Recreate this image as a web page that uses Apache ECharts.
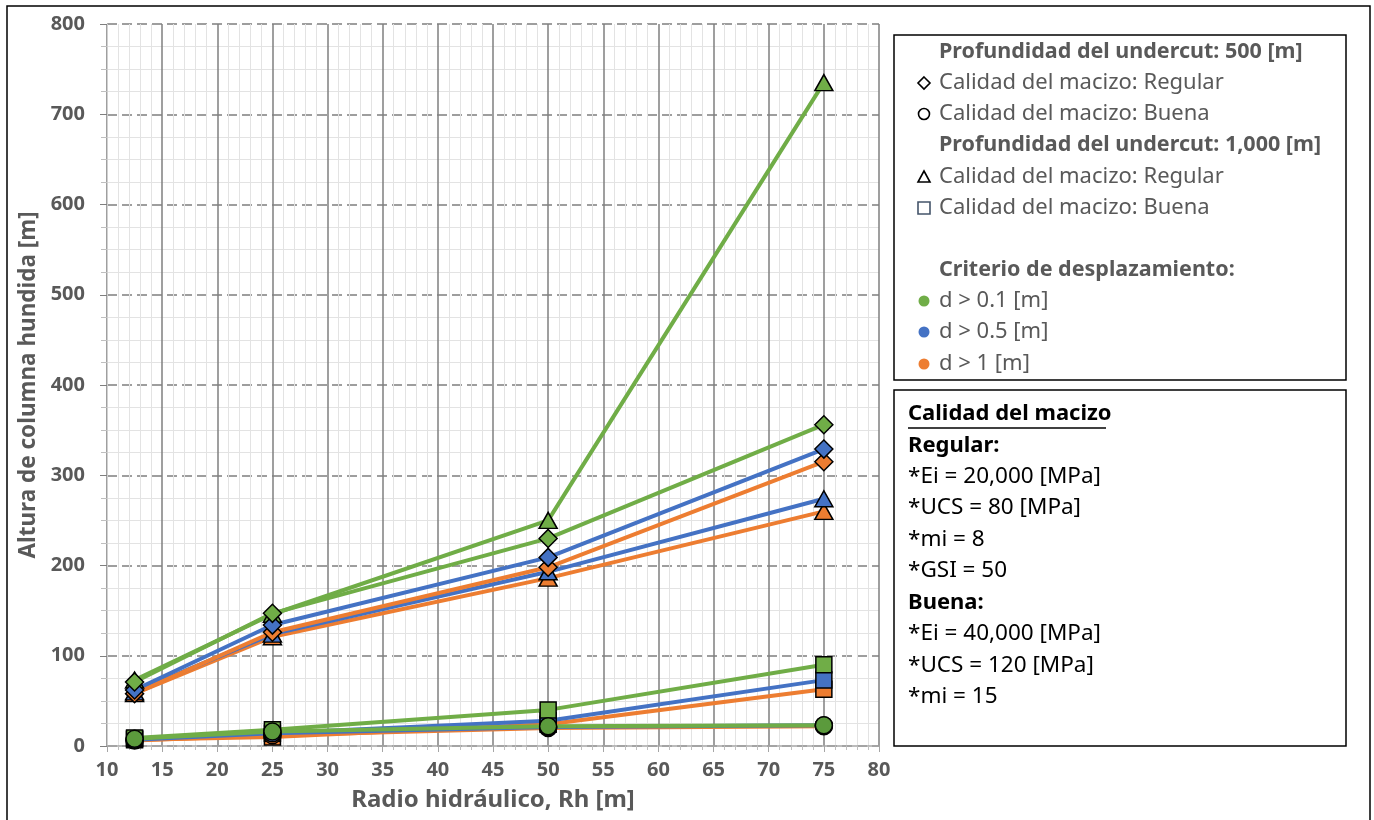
<!DOCTYPE html>
<html>
<head>
<meta charset="utf-8">
<script src="https://cdn.jsdelivr.net/npm/echarts@6/dist/echarts.min.js"></script>
<style>
  html, body { margin: 0; padding: 0; background: #fff; }
  #chart { width: 1374px; height: 820px; }
</style>
</head>
<body>
<div id="chart"></div>
<script>
// Hydraulic radius (x) shared by every series
const rh = [12.5, 25, 50, 75];

// Undercut depth 500 m, rock mass "Regular" (diamonds)
const reg500_d01 = [71, 147, 230, 356];
const reg500_d05 = [62, 134, 209, 329];
const reg500_d1  = [58, 126, 198, 315];

// Undercut depth 500 m, rock mass "Buena" (circles)
const bue500_d01 = [8, 16, 22, 23];
const bue500_d05 = [7, 14, 21, 23];
const bue500_d1  = [6, 12, 20, 22];

// Undercut depth 1,000 m, rock mass "Regular" (triangles)
const reg1000_d01 = [73, 146, 250, 735];
const reg1000_d05 = [60, 124, 193, 274];
const reg1000_d1  = [58, 121, 186, 260];

// Undercut depth 1,000 m, rock mass "Buena" (squares)
const bue1000_d01 = [9, 18, 40, 90];
const bue1000_d05 = [8, 14, 28, 73];
const bue1000_d1  = [7, 10, 24, 63];

// Axis ticks
const xTicks = [10, 15, 20, 25, 30, 35, 40, 45, 50, 55, 60, 65, 70, 75, 80];
const yTicks = [0, 100, 200, 300, 400, 500, 600, 700, 800];

const GREEN = '#70AD47', BLUE = '#4472C4', ORANGE = '#ED7D31';
const CIRCLE_GREEN = '#5B9A3C';
const GRAY = '#595959';
const FONT = '"Noto Sans", "Open Sans", sans-serif';

function makeSeries(name, values, color, symbol, size, fill) {
  return {
    name: name,
    type: 'line',
    data: values.map((v, i) => [rh[i], v]),
    symbol: symbol,
    symbolSize: size,
    showSymbol: true,
    lineStyle: { color: color, width: 4 },
    itemStyle: { color: fill || color, borderColor: '#000', borderWidth: 1.5 },
    emphasis: { disabled: true },
    animation: false
  };
}

const series = [
  makeSeries('1000 Buena d>1',   bue1000_d1,  ORANGE, 'rect', 16),
  makeSeries('1000 Buena d>0.5', bue1000_d05, BLUE,   'rect', 16),
  makeSeries('1000 Buena d>0.1', bue1000_d01, GREEN,  'rect', 16),
  makeSeries('1000 Regular d>1',   reg1000_d1,  ORANGE, 'triangle', [18, 16]),
  makeSeries('1000 Regular d>0.5', reg1000_d05, BLUE,   'triangle', [18, 16]),
  makeSeries('1000 Regular d>0.1', reg1000_d01, GREEN,  'triangle', [18, 16]),
  makeSeries('500 Regular d>1',   reg500_d1,  ORANGE, 'diamond', [18, 18]),
  makeSeries('500 Regular d>0.5', reg500_d05, BLUE,   'diamond', [18, 18]),
  makeSeries('500 Regular d>0.1', reg500_d01, GREEN,  'diamond', [18, 18]),
  makeSeries('500 Buena d>1',   bue500_d1,  ORANGE, 'circle', 17, ORANGE),
  makeSeries('500 Buena d>0.5', bue500_d05, BLUE,   'circle', 17, BLUE),
  makeSeries('500 Buena d>0.1', bue500_d01, GREEN,  'circle', 17, CIRCLE_GREEN)
];

// Legend and notes panels
const legendX = 894, legendTextX = 939, iconX = 924;
const legendRows = [
  { y: 52,  text: 'Profundidad del undercut: 500 [m]', bold: true },
  { y: 83,  text: 'Calidad del macizo: Regular', icon: 'diamond' },
  { y: 114, text: 'Calidad del macizo: Buena', icon: 'circle' },
  { y: 145, text: 'Profundidad del undercut: 1,000 [m]', bold: true },
  { y: 177, text: 'Calidad del macizo: Regular', icon: 'triangle' },
  { y: 208, text: 'Calidad del macizo: Buena', icon: 'square' },
  { y: 270, text: 'Criterio de desplazamiento:', bold: true },
  { y: 301, text: 'd > 0.1 [m]', dot: GREEN },
  { y: 332, text: 'd > 0.5 [m]', dot: BLUE },
  { y: 364, text: 'd > 1 [m]', dot: ORANGE }
];
const noteRows = [
  { y: 414, text: 'Calidad del macizo', bold: true },
  { y: 446, text: 'Regular:', bold: true },
  { y: 477, text: '*Ei = 20,000 [MPa]' },
  { y: 508, text: '*UCS = 80 [MPa]' },
  { y: 540, text: '*mi = 8' },
  { y: 571, text: '*GSI = 50' },
  { y: 603, text: 'Buena:', bold: true },
  { y: 634, text: '*Ei = 40,000 [MPa]' },
  { y: 666, text: '*UCS = 120 [MPa]' },
  { y: 697, text: '*mi = 15' }
];

const graphics = [
  // outer frame
  { type: 'rect', shape: { x: 7, y: 6, width: 1363, height: 830 },
    style: { fill: 'none', stroke: '#000', lineWidth: 1.5 }, silent: true },
  { type: 'rect', shape: { x: legendX, y: 35, width: 452, height: 345 },
    style: { fill: '#fff', stroke: '#000', lineWidth: 1.5 }, silent: true },
  { type: 'rect', shape: { x: legendX, y: 390, width: 452, height: 356 },
    style: { fill: '#fff', stroke: '#000', lineWidth: 1.5 }, silent: true }
];

legendRows.forEach(r => {
  graphics.push({
    type: 'text', x: legendTextX, y: r.y, silent: true,
    style: { text: r.text, fill: GRAY, font: (r.bold ? 'bold 21.5px ' : '22px ') + FONT,
             textVerticalAlign: 'middle', verticalAlign: 'middle' }
  });
  const st = { fill: 'none', stroke: '#000', lineWidth: 1.6 };
  if (r.icon === 'diamond') {
    graphics.push({ type: 'polygon', silent: true,
      shape: { points: [[iconX, r.y - 6], [iconX + 6, r.y], [iconX, r.y + 6], [iconX - 6, r.y]] }, style: st });
  } else if (r.icon === 'circle') {
    graphics.push({ type: 'circle', silent: true, shape: { cx: iconX, cy: r.y, r: 5.5 }, style: st });
  } else if (r.icon === 'triangle') {
    graphics.push({ type: 'polygon', silent: true,
      shape: { points: [[iconX, r.y - 6], [iconX + 6, r.y + 5], [iconX - 6, r.y + 5]] }, style: st });
  } else if (r.icon === 'square') {
    graphics.push({ type: 'rect', silent: true,
      shape: { x: iconX - 6, y: r.y - 6, width: 12, height: 12 }, style: { fill: 'none', stroke: '#44546A', lineWidth: 1.6 } });
  }
  if (r.dot) {
    graphics.push({ type: 'circle', silent: true, shape: { cx: iconX, cy: r.y, r: 5.5 }, style: { fill: r.dot } });
  }
});

noteRows.forEach(r => {
  graphics.push({
    type: 'text', x: 908, y: r.y, silent: true,
    style: { text: r.text, fill: '#000', font: (r.bold ? 'bold 22px ' : '22.5px ') + FONT,
             textVerticalAlign: 'middle', verticalAlign: 'middle' }
  });
});
// underline of the notes heading
graphics.push({ type: 'line', silent: true,
  shape: { x1: 908, y1: 428, x2: 1106, y2: 428 }, style: { stroke: '#000', lineWidth: 1.5 } });

const chart = echarts.init(document.getElementById('chart'), null, { renderer: 'canvas' });
chart.setOption({
  animation: false,
  backgroundColor: '#fff',
  grid: { left: 107, right: 495, top: 24, bottom: 74, containLabel: false },
  xAxis: {
    type: 'value',
    min: xTicks[0], max: xTicks[xTicks.length - 1], interval: 5,
    name: 'Radio hidráulico, Rh [m]',
    nameLocation: 'middle', nameGap: 42,
    nameTextStyle: { color: GRAY, fontSize: 24, fontWeight: 'bold', fontFamily: FONT },
    axisLine: { show: true, lineStyle: { color: '#a6a6a6', width: 1.5 } },
    axisTick: { show: true, length: 6, lineStyle: { color: '#a6a6a6' } },
    minorTick: { show: true, splitNumber: 5, length: 4, lineStyle: { color: '#bfbfbf' } },
    axisLabel: { color: GRAY, fontSize: 20, fontWeight: 'bold', fontFamily: FONT, margin: 14 },
    splitLine: { show: true, lineStyle: { color: '#7f7f7f', width: 1.5 } },
    minorSplitLine: { show: true, lineStyle: { color: '#e3e3e3', width: 1 } }
  },
  yAxis: {
    type: 'value',
    min: yTicks[0], max: yTicks[yTicks.length - 1], interval: 100,
    name: 'Altura de columna hundida [m]',
    nameLocation: 'middle', nameGap: 64,
    nameTextStyle: { color: GRAY, fontSize: 22.5, fontWeight: 'bold', fontFamily: FONT },
    axisLine: { show: true, lineStyle: { color: '#d0d0d0', width: 1 } },
    axisTick: { show: true, length: 7, lineStyle: { color: '#7f7f7f' } },
    minorTick: { show: true, splitNumber: 4, length: 6, lineStyle: { color: '#bfbfbf' } },
    axisLabel: { color: GRAY, fontSize: 20, fontWeight: 'bold', fontFamily: FONT, margin: 22 },
    splitLine: { show: true, lineStyle: { color: '#7f7f7f', width: 1.5, type: [10, 5] } },
    minorSplitLine: { show: true, lineStyle: { color: '#e3e3e3', width: 1 } }
  },
  series: series,
  graphic: graphics
});
</script>
</body>
</html>
